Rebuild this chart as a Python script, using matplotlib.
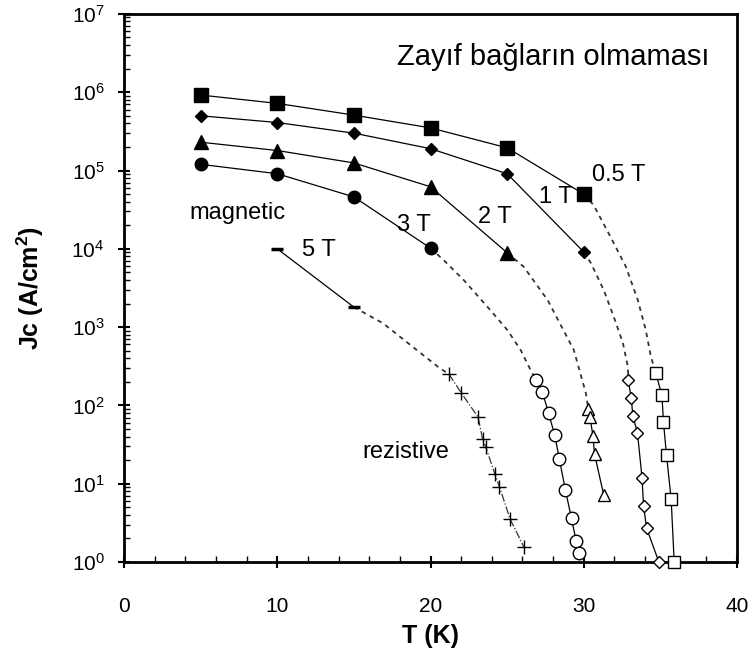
import math
import matplotlib
matplotlib.use("Agg")
import matplotlib.pyplot as plt
from matplotlib.ticker import FuncFormatter, MultipleLocator, LogLocator, NullFormatter

plt.rcParams['font.family'] = ['Liberation Sans', 'DejaVu Sans']
plt.rcParams['mathtext.fontset'] = 'custom'
plt.rcParams['mathtext.rm'] = 'Liberation Sans'
plt.rcParams['mathtext.bf'] = 'Liberation Sans:bold'

# magnetic region (filled markers), T in K, Jc in A/cm2
T_mag = [5, 10, 15, 20, 25, 30]
jc_05 = [9.2e5, 7.2e5, 5.1e5, 3.5e5, 1.95e5, 5.0e4]
jc_1 = [5.0e5, 4.1e5, 3.0e5, 1.9e5, 9.1e4, 9.1e3]
T_2 = [5, 10, 15, 20, 25]
jc_2 = [2.3e5, 1.8e5, 1.25e5, 6.2e4, 8.9e3]
T_3 = [5, 10, 15, 20]
jc_3 = [1.2e5, 9.1e4, 4.6e4, 1.02e4]
T_5 = [10, 15]
jc_5 = [1.0e4, 1.8e3]

# resistive region (open markers)
T_r05 = [34.7, 35.1, 35.2, 35.4, 35.7, 35.9]
jc_r05 = [258, 135, 61, 23, 6.4, 1.0]
T_r1 = [32.9, 33.1, 33.2, 33.5, 33.8, 33.9, 34.1, 34.9]
jc_r1 = [210, 124, 73, 45, 12, 5.2, 2.7, 1.0]
T_r2 = [30.3, 30.4, 30.6, 30.7, 31.3]
jc_r2 = [90, 71, 41, 24, 7.2]
T_r3 = [26.9, 27.3, 27.7, 28.1, 28.4, 28.8, 29.2, 29.5, 29.7]
jc_r3 = [210, 148, 80, 42, 21, 8.3, 3.6, 1.85, 1.3]
T_r5 = [21.2, 22.0, 23.1, 23.4, 23.6, 24.2, 24.5, 25.2, 26.1]
jc_r5 = [251, 145, 71, 37, 29.5, 13.3, 9.1, 3.5, 1.55]

# dashed guide lines between the two regions (read along the dashes)
g05_T = [30, 30.65, 31.76, 32.75, 33.53, 34.05, 34.38, 34.7]
g05_jc = [5.0e4, 3.6e4, 1.4e4, 5.9e3, 2.2e3, 910, 420, 258]
g1_T = [30, 30.46, 31.31, 31.96, 32.55, 32.88, 32.9]
g1_jc = [9.1e3, 6.6e3, 2.95e3, 1.35e3, 630, 310, 210]
g2_T = [25, 26.08, 27.65, 29.35, 30.13, 30.3]
g2_jc = [8.9e3, 5.9e3, 2.2e3, 510, 145, 90]
g3_T = [20, 20.85, 22.16, 23.73, 25.03, 25.88, 26.54, 26.9]
g3_jc = [1.02e4, 7.2e3, 4.0e3, 1.8e3, 910, 510, 280, 210]
g5_T = [15, 16.9, 19.1, 20.5, 21.2]
g5_jc = [1.8e3, 1.12e3, 510, 310, 251]

fig = plt.figure(figsize=(7.53, 6.62), dpi=100)
ax = fig.add_axes([0.1647, 0.151, 0.8141, 0.828])

dash = dict(color='#333333', lw=1.3, ls=(0, (2.5, 2.5)))
ax.plot(g05_T, g05_jc, **dash)
ax.plot(g1_T, g1_jc, **dash)
ax.plot(g2_T, g2_jc, **dash)
ax.plot(g3_T, g3_jc, **dash)
ax.plot(g5_T, g5_jc, **dash)

k = dict(color='black', lw=0.9, clip_on=False, zorder=3)
ax.plot(T_mag, jc_05, marker='s', ms=9.5, **k)
ax.plot(T_mag, jc_1, marker='D', ms=6.5, **k)
ax.plot(T_2, jc_2, marker='^', ms=9.5, **k)
ax.plot(T_3, jc_3, marker='o', ms=9, **k)
ax.plot(T_5, jc_5, marker='_', ms=9, mew=2.5, **k)

o = dict(color='black', lw=0.9, mfc='white', mec='black', mew=1.0, clip_on=False, zorder=3)
ax.plot(T_r05, jc_r05, marker='s', ms=9, **o)
ax.plot(T_r1, jc_r1, marker='D', ms=6.5, **o)
ax.plot(T_r2, jc_r2, marker='^', ms=9, **o)
ax.plot(T_r3, jc_r3, marker='o', ms=9, **o)
ax.plot(T_r5, jc_r5, color='#333333', lw=0.9, ls='-.', marker='+', ms=10,
        mew=1.0, mec='black', clip_on=False, zorder=3)

ax.set_yscale('log')
ax.set_xlim(0, 40)
ax.set_ylim(1, 1e7)

ax.xaxis.set_major_locator(MultipleLocator(10))
ax.xaxis.set_minor_locator(MultipleLocator(2))
ax.yaxis.set_major_locator(LogLocator(base=10, numticks=10))
ax.yaxis.set_minor_locator(LogLocator(base=10, subs=range(2, 10), numticks=100))
ax.yaxis.set_minor_formatter(NullFormatter())
ax.yaxis.set_major_formatter(FuncFormatter(lambda v, p: r'$\mathregular{10^{%d}}$' % round(math.log10(v))))

ax.tick_params(axis='both', which='major', direction='inout', length=8, width=1.5,
               labelsize=15)
ax.tick_params(axis='y', which='major', pad=10)
ax.tick_params(axis='x', which='major', pad=21)
ax.tick_params(axis='both', which='minor', direction='in', length=4, width=1)

for s in ax.spines.values():
    s.set_linewidth(2)

ax.set_xlabel('T (K)', fontsize=18, fontweight='bold', labelpad=6)
ax.set_ylabel('Jc (A/cm$^\\mathbf{2}$)', fontsize=18, fontweight='bold', labelpad=18)

ax.text(28.0, 10**6.45, 'Zayıf bağların olmaması', fontsize=21, ha='center', va='center')
ax.text(7.4, 10**4.46, 'magnetic', fontsize=17, ha='center', va='center')
ax.text(18.4, 10**1.40, 'rezistive', fontsize=17, ha='center', va='center')
ax.text(12.7, 10**3.98, '5 T', fontsize=17, ha='center', va='center')
ax.text(18.9, 10**4.30, '3 T', fontsize=17, ha='center', va='center')
ax.text(24.2, 10**4.41, '2 T', fontsize=17, ha='center', va='center')
ax.text(28.2, 10**4.66, '1 T', fontsize=17, ha='center', va='center')
ax.text(32.3, 10**4.94, '0.5 T', fontsize=17, ha='center', va='center')

fig.savefig('out.png', dpi=100)
